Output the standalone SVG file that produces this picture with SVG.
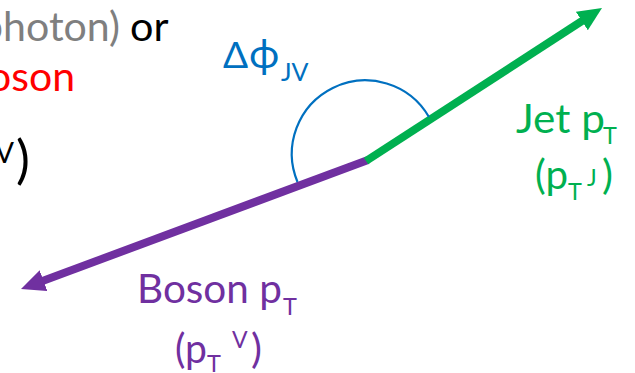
<svg xmlns="http://www.w3.org/2000/svg" width="635" height="373" viewBox="0 0 635 373">
<style>
text{font-family:Lato,"Noto Sans","DejaVu Sans",sans-serif}
.m{font-size:41px}
.s{font-size:23.5px}
.sup{font-size:23px}
.p{fill:#7030A0}
.g{fill:#00B050}
.b{fill:#0070C0}
.line{fill:none;stroke-width:8;stroke-linecap:butt}
</style>
<defs>
<marker id="ahP" markerUnits="userSpaceOnUse" markerWidth="26" markerHeight="24" refX="4" refY="11" orient="auto" viewBox="0 0 26 24">
<path d="M0,0 L24,11 L0,22 z" fill="#7030A0"/>
</marker>
<marker id="ahG" markerUnits="userSpaceOnUse" markerWidth="26" markerHeight="24" refX="4" refY="11" orient="auto" viewBox="0 0 26 24">
<path d="M0,0 L24,11 L0,22 z" fill="#00B050"/>
</marker>
</defs>
<rect width="635" height="373" fill="#fff"/>
<g id="caption">
<text class="m" x="-20" y="41" textLength="140" lengthAdjust="spacingAndGlyphs" fill="#7F7F7F">photon)</text>
<text class="m" x="130" y="41" textLength="38.5" lengthAdjust="spacingAndGlyphs" fill="#000">or</text>
<text class="m" x="-12" y="91" textLength="87" lengthAdjust="spacingAndGlyphs" fill="#FF0000">oson</text>
<text fill="#000"><tspan x="14" y="163" font-size="28" text-anchor="end">V</tspan><tspan x="30" y="178" font-size="52" text-anchor="end">)</tspan></text>
</g>
<g id="connectors">
<path class="line" d="M368,160 L39.75,282.03" stroke="#7030A0" marker-end="url(#ahP)"/>
<path class="line" d="M366,161 L585.2,18.9" stroke="#00B050" marker-end="url(#ahG)"/>
<path d="M297.5,182 A73.5,73.5 0 0 1 429,117" fill="none" stroke="#0070C0" stroke-width="2.2"/>
</g>
<g id="angle-label">
<text class="b" font-family="'Noto Sans',sans-serif"><tspan x="223" y="68" font-size="37">Δ</tspan><tspan x="249" y="68" font-size="41">ϕ</tspan><tspan x="281" y="81" font-size="25">JV</tspan></text>
</g>
<g id="jet-label">
<text class="g"><tspan class="m" x="516" y="133" textLength="89" lengthAdjust="spacingAndGlyphs">Jet p</tspan><tspan class="s" x="603" y="144">T</tspan></text>
<text class="g"><tspan class="m" x="535" y="189" textLength="33" lengthAdjust="spacingAndGlyphs">(p</tspan><tspan class="s" x="568" y="200">T</tspan><tspan class="sup" x="587" y="186">J</tspan><tspan class="m" x="602" y="189">)</tspan></text>
</g>
<g id="boson-label">
<text class="p"><tspan class="m" x="137" y="303" textLength="145" lengthAdjust="spacingAndGlyphs">Boson p</tspan><tspan class="s" x="283" y="315">T</tspan></text>
<text class="p"><tspan class="m" x="175" y="363" textLength="32" lengthAdjust="spacingAndGlyphs">(p</tspan><tspan class="s" x="207" y="372">T</tspan><tspan class="sup" x="232" y="348">V</tspan><tspan class="m" x="251" y="363">)</tspan></text>
</g>
</svg>
